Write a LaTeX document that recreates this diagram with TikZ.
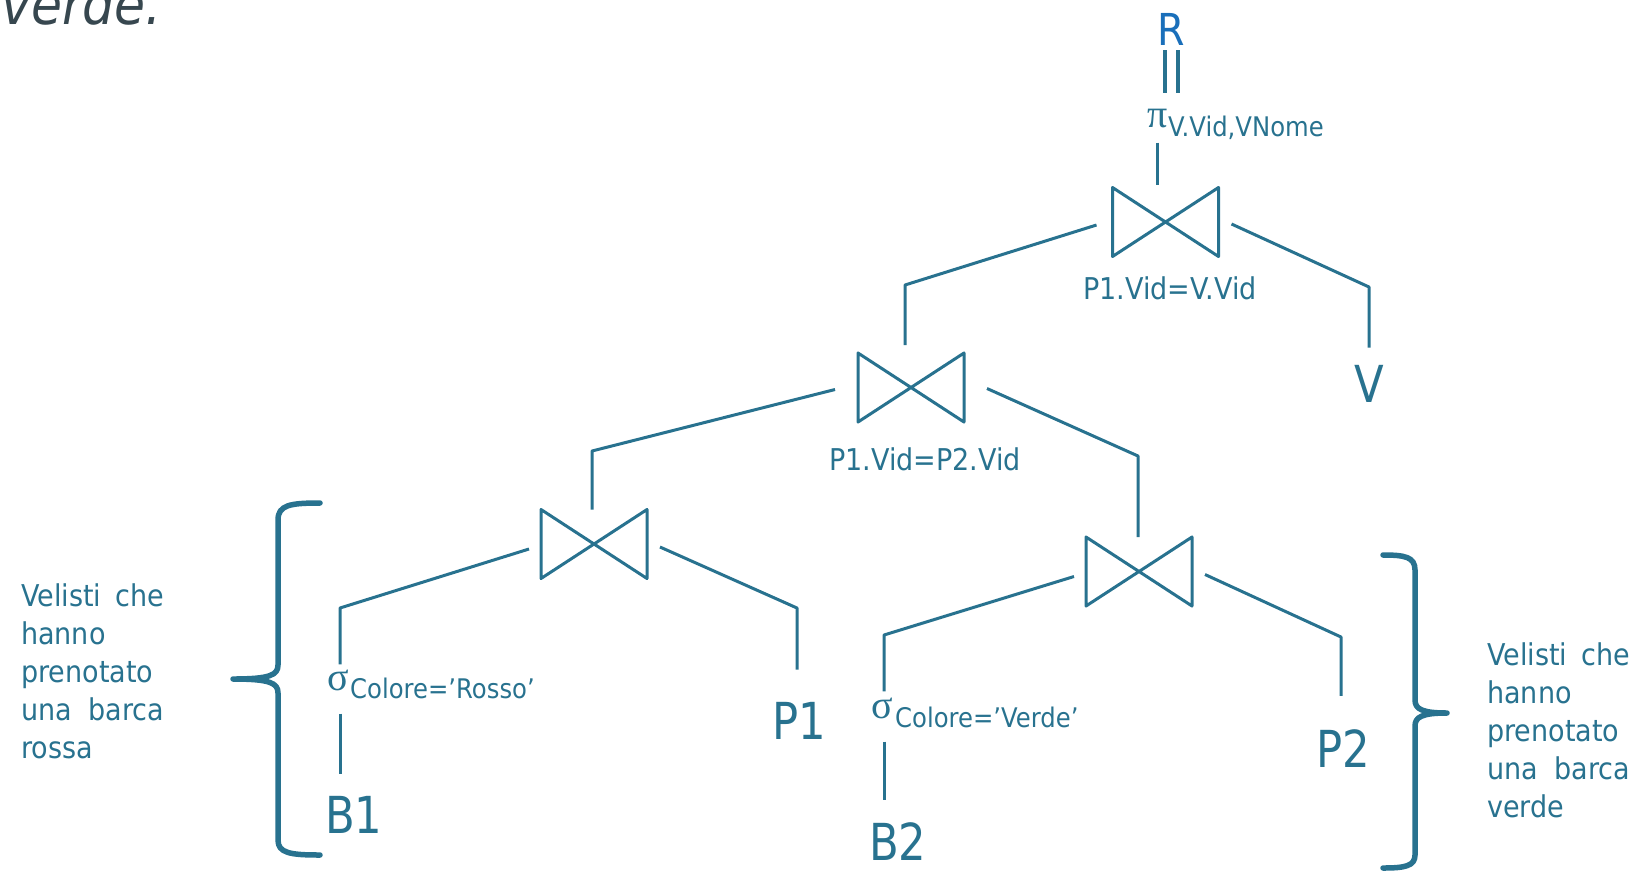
\documentclass[tikz,border=0pt]{standalone}
\usepackage{fontspec}
\setmainfont{DejaVu Sans}[FakeStretch=0.9]
\newfontfamily\bigfont{DejaVu Sans}[FakeStretch=0.85]
\newfontfamily\grkfont{Liberation Serif}
\definecolor{treecol}{HTML}{28728F}
\definecolor{rcol}{HTML}{1A6FBA}
\definecolor{slatecol}{HTML}{37474F}
\newcommand\drawjoin[1]{\draw[tree] (#1.north west) -- (#1.south east) -- (#1.north east) -- (#1.south west) -- cycle;}
\tikzset{
  tree/.style={draw=treecol, line width=3pt, line join=round},
  joinbox/.style={minimum width=106pt, minimum height=69pt, inner sep=0pt, outer sep=0pt},
  lbl/.style={font=\fontsize{30}{36}\selectfont, text=treecol, inner sep=0pt, anchor=base},
  sublbl/.style={font=\fontsize{27}{32}\selectfont, text=treecol, inner sep=0pt, anchor=base west},
  grk/.style={font=\grkfont\fontsize{40}{44}\selectfont, text=treecol, inner sep=0pt, anchor=base west},
  biglbl/.style={font=\bigfont\fontsize{51}{60}\selectfont, text=treecol, inner sep=0pt},
  side/.style={font=\fontsize{30}{36}\selectfont, text=treecol, inner sep=0pt, anchor=base west},
  bracestyle/.style={draw=treecol, line width=5.5pt, line cap=round, line join=round}
}
\begin{document}
\begin{tikzpicture}[x=1pt,y=-1pt]
\useasboundingbox (0,0) rectangle (1637,871);
\begin{scope}
\clip (0,0) rectangle (1637,871);
\node[anchor=base east, inner sep=0pt, font=\itshape\fontsize{56}{60}\selectfont, text=slatecol] (vtxt) at (162,24) {verde.};
\end{scope}

% join nodes
\node[joinbox] (jTop) at (1165.5,222) {};
\node[joinbox] (jMid) at (911,387.5) {};
\node[joinbox] (jBL) at (594,544) {};
\node[joinbox] (jBR) at (1139,571.5) {};
\drawjoin{jTop}
\drawjoin{jMid}
\drawjoin{jBL}
\drawjoin{jBR}

% labels
\node[lbl, font=\fontsize{44}{50}\selectfont, text=rcol] (R) at (1171.5,45) {R};
\node[grk] (pi) at (1147,127) {π};
\node[sublbl] (piSub) at (1168,136) {V.Vid,VNome};
\node[lbl] (cTop) at (1170,299) {P1.Vid=V.Vid};
\node[lbl] (cMid) at (925,470) {P1.Vid=P2.Vid};
\node[biglbl, anchor=base] (V) at (1369,402) {V};
\node[grk] (sigR) at (327,690) {σ};
\node[sublbl] (subR) at (350,698) {Colore=’Rosso’};
\node[biglbl, anchor=base west] (B1) at (325,833) {B1};
\node[biglbl, anchor=base] (P1) at (799,739) {P1};
\node[grk] (sigV) at (871,718) {σ};
\node[sublbl] (subV) at (895,727) {Colore=’Verde’};
\node[biglbl, anchor=base west] (B2) at (869,860) {B2};
\node[biglbl, anchor=base west] (P2) at (1316,767) {P2};

% R double line
\coordinate (dlA) at ([xshift=-6.5pt]R.south);
\coordinate (dlB) at ([xshift=6.5pt]R.south);
\draw[tree, line width=4pt, shorten <=5pt, shorten >=15pt] (dlA) -- (dlA |- pi.north);
\draw[tree, line width=4pt, shorten <=5pt, shorten >=15pt] (dlB) -- (dlB |- pi.north);

% connectors
\draw[tree, shorten <=15pt, shorten >=3pt] (pi.south) -- (pi.south |- jTop.north);
\draw[tree, shorten >=8pt] ([shift={(-16,3)}]jTop.west) -- (905,285) -- (905,285 |- jMid.north);
\draw[tree, shorten >=17pt] ([shift={(13,2)}]jTop.east) -- (1369,287) -- (1369,287 |- V.north);
\draw[tree] ([shift={(-23,2)}]jMid.west) -- (592,451) -- (592,451 |- jBL.north);
\draw[tree] ([shift={(23,1)}]jMid.east) -- (1138,456) -- (1138,456 |- jBR.north);
\draw[tree, shorten >=5pt] ([shift={(-12,5)}]jBL.west) -- (340,608) -- (340,608 |- sigR.north);
\draw[tree, shorten >=32pt] ([shift={(13,3)}]jBL.east) -- (797,608) -- (797,608 |- P1.north);
\draw[tree, shorten >=6pt] ([shift={(-12,5)}]jBR.west) -- (884,635) -- (884,635 |- sigV.north);
\draw[tree, shorten >=33pt] ([shift={(13,3)}]jBR.east) -- (1341,637) -- (1341,637 |- P2.north);
\draw[tree, shorten <=23pt, shorten >=22pt] (340,0 |- sigR.south) -- (340,0 |- B1.north);
\draw[tree, shorten <=23pt, shorten >=22pt] (884,0 |- sigV.south) -- (884,0 |- B2.north);

% braces
\draw[bracestyle] (320,503) .. controls (290,503) and (278,505) .. (278,520) -- (278,665)
  .. controls (278,675) and (270,679) .. (233,679)
  .. controls (270,679) and (278,683) .. (278,693) -- (278,840)
  .. controls (278,853) and (290,855) .. (320,855);
\draw[bracestyle] (1383,555) .. controls (1405,555) and (1415,557) .. (1415,570) -- (1415,700)
  .. controls (1415,709) and (1422,713) .. (1447,713)
  .. controls (1422,713) and (1415,717) .. (1415,726) -- (1415,855)
  .. controls (1415,866) and (1405,868) .. (1383,868);

% side texts
\node[side] (la1) at (21,606) {\makebox[143pt][s]{Velisti che}};
\node[side] (la2) at (21,644) {hanno};
\node[side] (la3) at (21,682) {prenotato};
\node[side] (la4) at (21,720) {\makebox[143pt][s]{una barca}};
\node[side] (la5) at (21,758) {rossa};
\node[side] (lb1) at (1487,665) {\makebox[143pt][s]{Velisti che}};
\node[side] (lb2) at (1487,703) {hanno};
\node[side] (lb3) at (1487,741) {prenotato};
\node[side] (lb4) at (1487,779) {\makebox[143pt][s]{una barca}};
\node[side] (lb5) at (1487,817) {verde};
\end{tikzpicture}
\end{document}
